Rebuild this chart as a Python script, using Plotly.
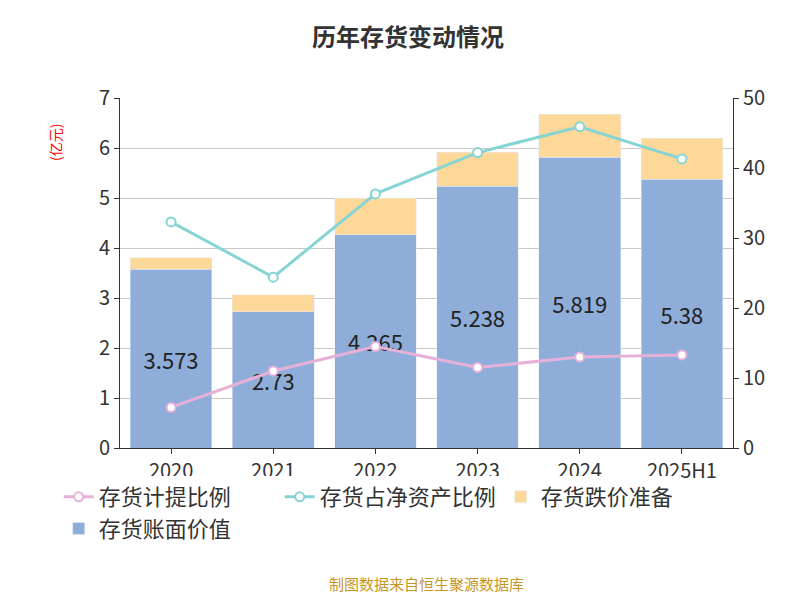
import plotly.graph_objects as go

years = ["2020", "2021", "2022", "2023", "2024", "2025H1"]
book_value = [3.573, 2.73, 4.265, 5.238, 5.819, 5.38]
impairment = [0.23, 0.34, 0.73, 0.68, 0.86, 0.82]
net_asset_ratio = [32.3, 24.4, 36.3, 42.2, 45.9, 41.3]
provision_ratio = [5.8, 11.0, 14.5, 11.5, 13.0, 13.3]

fig = go.Figure()
fig.add_trace(go.Bar(
    x=years, y=book_value, name="存货账面价值", marker_color="#8eadd9",
    text=[str(v) for v in book_value], textposition="inside", insidetextanchor="middle",
    textfont=dict(size=22, color="#222"), width=0.8,
))
fig.add_trace(go.Bar(
    x=years, y=impairment, name="存货跌价准备", marker_color="#fdd899", width=0.8,
))
fig.add_trace(go.Scatter(
    x=years, y=net_asset_ratio, name="存货占净资产比例", yaxis="y2", mode="lines+markers",
    line=dict(color="#86d4d4", width=3),
    marker=dict(size=9, color="white", line=dict(color="#86d4d4", width=2)),
))
fig.add_trace(go.Scatter(
    x=years, y=provision_ratio, name="存货计提比例", yaxis="y2", mode="lines+markers",
    line=dict(color="#e6b1d9", width=3),
    marker=dict(size=9, color="white", line=dict(color="#e6b1d9", width=2)),
))

fig.update_layout(
    width=800, height=600, barmode="stack",
    plot_bgcolor="white", paper_bgcolor="white",
    font=dict(family="Noto Sans CJK SC", size=20, color="#333"),
    title=dict(text="<b>历年存货变动情况</b>", x=0.5, y=0.965, font=dict(size=24, color="#333")),
    margin=dict(l=112, r=75, t=90, b=160),
    xaxis=dict(showline=True, linecolor="#333", ticks="outside", tickcolor="#333"),
    yaxis=dict(range=[0, 7], dtick=1, gridcolor="#c8c8c8", showline=True, linecolor="#333",
               ticks="outside", tickcolor="#333"),
    yaxis2=dict(range=[0, 50], dtick=10, overlaying="y", side="right", showgrid=False,
                showline=True, linecolor="#333", ticks="outside", tickcolor="#333"),
    legend=dict(orientation="h", x=-0.1, y=-0.08, xanchor="left", yanchor="top",
                font=dict(size=22)),
    annotations=[
        dict(text="(亿元)", x=0, y=0.93, xref="paper", yref="paper", xanchor="center",
             textangle=-90, showarrow=False, font=dict(size=14, color="red"), xshift=-65),
        dict(text="制图数据来自恒生聚源数据库", x=0.5, y=-0.423, xref="paper", yref="paper",
             showarrow=False, font=dict(size=15, color="#c8961e")),
    ],
)

fig.write_html("out.html")
